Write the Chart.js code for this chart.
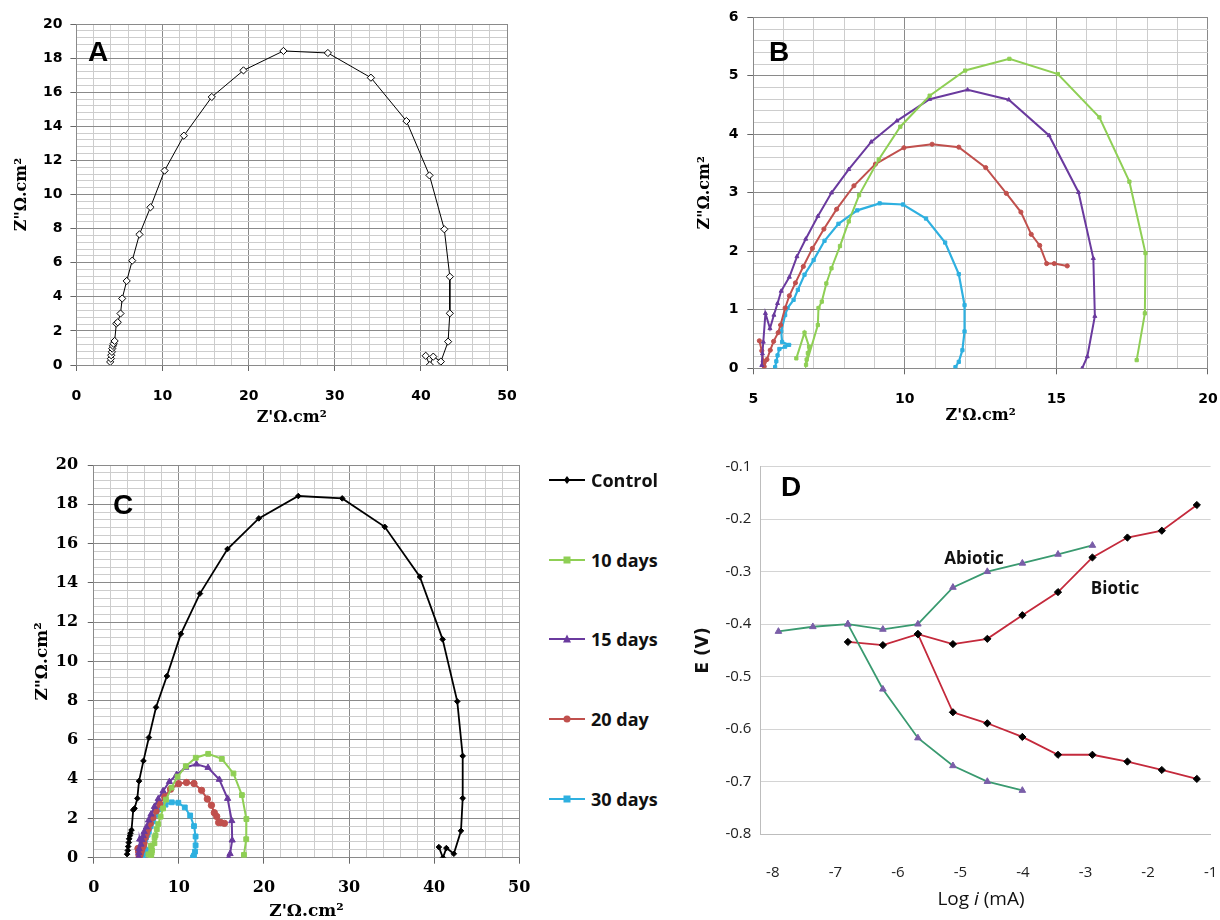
<!DOCTYPE html>
<html>
<head>
<meta charset="utf-8">
<script src="https://cdn.jsdelivr.net/npm/chart.js@4.4.1/dist/chart.umd.min.js"></script>
<style>
  html, body { margin:0; padding:0; background:#fff; width:1220px; height:920px; overflow:hidden; }
  .panel { position:absolute; }
  .lbl { position:absolute; transform:translate(-50%,-50%); white-space:nowrap; color:#000; }
  .letter { font-family:"Liberation Sans", Arial, sans-serif; font-weight:bold; font-size:28px; }
  .leg { position:absolute; left:549px; height:20px; display:flex; align-items:center; transform:translateY(-50%); }
  .leg span { font-family:"Open Sans", sans-serif; font-weight:bold; font-size:18px; color:#111; margin-left:6px; }
</style>
</head>
<body>
<div class="panel" style="left:0;top:0;"><canvas id="cA" width="540" height="440"></canvas></div>
<div class="panel" style="left:680px;top:0;"><canvas id="cB" width="540" height="440"></canvas></div>
<div class="panel" style="left:0;top:440px;"><canvas id="cC" width="540" height="482"></canvas></div>
<div class="panel" style="left:690px;top:440px;"><canvas id="cD" width="530" height="480"></canvas></div>

<div class="lbl letter" style="left:98px;top:52px;">A</div>
<div class="lbl letter" style="left:779px;top:52px;">B</div>
<div class="lbl letter" style="left:123px;top:505px;">C</div>
<div class="lbl letter" style="left:791px;top:487px;">D</div>
<div class="lbl" style="left:974px;top:557px;font-family:'Open Sans',sans-serif;font-weight:bold;font-size:17px;color:#111;">Abiotic</div>
<div class="lbl" style="left:1115px;top:587px;font-family:'Open Sans',sans-serif;font-weight:bold;font-size:17px;color:#111;">Biotic</div>
<div class="lbl" style="left:981px;top:898px;font-family:'Open Sans',sans-serif;font-size:19px;color:#111;">Log <i>i</i> (mA)</div>
<div id="legend"></div>

<script>
// ---------- DATA ----------
// Panel A / C : Control
const CONTROL_X = [3.92,4.0,4.04,4.12,4.16,4.24,4.32,4.44,4.64,4.8,5.12,5.32,5.84,6.48,7.32,8.6,10.24,12.48,15.72,19.4,24.04,29.2,34.2,38.32,41.0,42.72,43.36,43.36,43.16,42.32,41.44,41.04,40.56];
const CONTROL_Y = [0.18,0.37,0.57,0.77,0.96,1.12,1.25,1.41,2.43,2.51,3.02,3.9,4.93,6.12,7.66,9.25,11.4,13.45,15.72,17.28,18.42,18.3,16.85,14.31,11.12,7.96,5.18,3.03,1.37,0.2,0.49,0.0,0.54];
// Panel B / C : 10 days
const D10_X = [6.42,6.69,6.84,6.80,6.76,6.74,7.13,7.15,7.26,7.41,7.58,7.86,8.15,8.49,9.14,9.85,10.82,11.99,13.45,15.05,16.42,17.41,17.94,17.92,17.65];
const D10_Y = [0.17,0.61,0.37,0.26,0.15,0.06,0.74,1.03,1.14,1.45,1.71,2.09,2.51,2.96,3.57,4.13,4.66,5.09,5.29,5.03,4.29,3.19,1.97,0.94,0.14];
// 15 days
const D15_X = [5.28,5.30,5.33,5.40,5.55,5.68,5.80,5.92,6.19,6.44,6.73,7.13,7.58,8.15,8.89,9.74,10.82,12.07,13.43,14.76,15.73,16.22,16.27,16.02,15.85];
const D15_Y = [0.05,0.25,0.45,0.94,0.68,0.91,1.11,1.32,1.56,1.91,2.21,2.60,3.0,3.40,3.87,4.23,4.60,4.76,4.59,3.98,3.01,1.88,0.89,0.20,0.0];
// 20 day
const D20_X = [5.2,5.28,5.33,5.36,5.45,5.56,5.67,5.82,5.90,6.05,6.19,6.39,6.65,6.95,7.33,7.75,8.32,9.03,9.97,10.90,11.78,12.67,13.35,13.83,14.17,14.45,14.68,14.93,15.36];
const D20_Y = [0.47,0.30,0.12,0.03,0.15,0.31,0.46,0.61,0.74,1.03,1.24,1.46,1.74,2.05,2.38,2.72,3.12,3.49,3.77,3.83,3.78,3.43,2.99,2.67,2.29,2.10,1.79,1.79,1.75];
// 30 days
const D30_X = [5.72,5.76,5.80,5.86,6.05,6.18,5.95,5.92,6.05,6.13,6.33,6.47,6.69,6.99,7.35,7.81,8.43,9.17,9.94,10.70,11.33,11.78,11.97,11.97,11.90,11.78,11.67];
const D30_Y = [0.02,0.12,0.22,0.33,0.37,0.40,0.45,0.63,0.91,1.03,1.17,1.34,1.60,1.85,2.18,2.47,2.70,2.82,2.80,2.56,2.15,1.61,1.08,0.63,0.31,0.11,0.02];
// Panel D : polarization curves
const ABIO_AN_X = [-7.91,-7.36,-6.80,-6.24,-5.68,-5.12,-4.57,-4.01,-3.44,-2.89];
const ABIO_AN_Y = [-0.414,-0.405,-0.400,-0.410,-0.400,-0.330,-0.300,-0.284,-0.267,-0.250];
const ABIO_CA_X = [-6.80,-6.24,-5.68,-5.12,-4.57,-4.01];
const ABIO_CA_Y = [-0.400,-0.524,-0.617,-0.670,-0.700,-0.717];
const BIO_AN_X = [-6.80,-6.24,-5.68,-5.12,-4.57,-4.01,-3.44,-2.89,-2.33,-1.78,-1.22];
const BIO_AN_Y = [-0.434,-0.440,-0.419,-0.438,-0.428,-0.383,-0.339,-0.273,-0.235,-0.222,-0.173];
const BIO_CA_X = [-5.68,-5.12,-4.57,-4.01,-3.44,-2.89,-2.33,-1.78,-1.22];
const BIO_CA_Y = [-0.419,-0.568,-0.589,-0.615,-0.649,-0.649,-0.662,-0.678,-0.695];
// tick definitions
const NYQ_X_TICKS_AC = [0,10,20,30,40,50];
const NYQ_Y_TICKS_AC = [0,2,4,6,8,10,12,14,16,18,20];
const NYQ_X_TICKS_B = [5,10,15,20];
const NYQ_Y_TICKS_B = [0,1,2,3,4,5,6];
const POL_X_TICKS = [-8,-7,-6,-5,-4,-3,-2,-1];
const POL_Y_TICKS = [-0.8,-0.7,-0.6,-0.5,-0.4,-0.3,-0.2,-0.1];
const LEGEND_NAMES = ['Control','10 days','15 days','20 day','30 days'];

// ---------- STYLE ----------
const COL = { control:'#000000', d10:'#8FCF55', d15:'#6A3A9E', d20:'#C0504D', d30:'#2EB0E0' };
const MAJOR = '#8a8a8a', MINOR = '#cdcdcd';

function pts(xs, ys){ return xs.map((x,i)=>({x:x, y:ys[i]})); }
function range(min,max,step){ const t=[]; for(let i=0;;i++){ const v=+(min+i*step).toFixed(6); if(v>max+1e-9) break; t.push(v);} return t; }
function isIn(v, arr){ return arr.some(a=>Math.abs(a-v)<1e-6); }
function noPad(s){ s.paddingLeft = 0; s.paddingRight = 0; s.paddingTop = 0; s.paddingBottom = 0; }

function gridScale(o){
  return {
    type:'linear', min:o.min, max:o.max, position:o.position,
    afterBuildTicks: s => { s.ticks = range(o.min,o.max,o.step).map(v=>({value:v})); },
    afterFit: s => { if (o.position==='bottom') s.height=o.size; else s.width=o.size; noPad(s); },
    ticks:{ autoSkip:false, maxRotation:0, minRotation:0, padding:o.tpad, color:'#000',
            font:{family:o.tfont, size:o.tsize, weight:'bold'},
            callback: v => isIn(v,o.labels) ? String(v) : '' },
    grid:{ color: c => (c.tick && isIn(c.tick.value,o.labels)) ? MAJOR : MINOR, lineWidth:1,
           tickLength:6, tickColor: c => (c.tick && isIn(c.tick.value,o.labels)) ? '#666' : 'rgba(0,0,0,0)' },
    border:{ display:true, color:MAJOR },
    title:{ display:true, text:o.title, color:'#000', font:{family:'DejaVu Serif', size:o.titleSize, weight:'bold'}, padding:o.titlePad }
  };
}

function ds(label, xs, ys, color, style, radius, width, fill){
  return { label:label, data:pts(xs,ys), showLine:true, borderColor:color, borderWidth:width,
           pointStyle:style, pointRadius:radius, pointBorderColor:color, pointBorderWidth:1,
           pointBackgroundColor: fill || color, tension:0 };
}

const common = { responsive:false, animation:false, plugins:{legend:{display:false}, tooltip:{enabled:false}} };

// Panel A
new Chart(document.getElementById('cA'), {
  type:'scatter',
  data:{ datasets:[ ds('Control', CONTROL_X, CONTROL_Y, '#000', 'rectRot', 3.6, 1, '#fff') ] },
  options:Object.assign({}, common, {
    layout:{ padding:{left:0, top:24, right:33, bottom:0} },
    scales:{
      x: gridScale({min:0,max:50,step:2,labels:NYQ_X_TICKS_AC,position:'bottom',size:75,tpad:17,tfont:'DejaVu Sans',tsize:14,title:"Z'Ω.cm²",titleSize:16,titlePad:{top:0,bottom:13}}),
      y: gridScale({min:0,max:20,step:0.4,labels:NYQ_Y_TICKS_AC,position:'left',size:76.4,tpad:8,tfont:'DejaVu Sans',tsize:14,title:'Z"Ω.cm²',titleSize:16,titlePad:{top:12,bottom:0}})
    }
  })
});

// Panel B
new Chart(document.getElementById('cB'), {
  type:'scatter',
  data:{ datasets:[
    ds('10 days', D10_X, D10_Y, COL.d10, 'rect', 2.3, 2),
    ds('15 days', D15_X, D15_Y, COL.d15, 'triangle', 2.3, 2),
    ds('20 day', D20_X, D20_Y, COL.d20, 'circle', 2.1, 2),
    ds('30 days', D30_X, D30_Y, COL.d30, 'rect', 2.3, 2.2)
  ] },
  options:Object.assign({}, common, {
    layout:{ padding:{left:0, top:17.3, right:12.1, bottom:0} },
    scales:{
      x: gridScale({min:5,max:20,step:1,labels:NYQ_X_TICKS_B,position:'bottom',size:71.7,tpad:17,tfont:'DejaVu Sans',tsize:14,title:"Z'Ω.cm²",titleSize:16,titlePad:{top:0,bottom:14.8}}),
      y: gridScale({min:0,max:6,step:0.2,labels:NYQ_Y_TICKS_B,position:'left',size:73.3,tpad:8.8,tfont:'DejaVu Sans',tsize:14,title:'Z"Ω.cm²',titleSize:16,titlePad:{top:15.6,bottom:0}})
    }
  })
});

// Panel C
new Chart(document.getElementById('cC'), {
  type:'scatter',
  data:{ datasets:[
    ds('Control', CONTROL_X, CONTROL_Y, COL.control, 'rectRot', 2.8, 1.8),
    ds('10 days', D10_X, D10_Y, COL.d10, 'rect', 3.4, 2),
    ds('15 days', D15_X, D15_Y, COL.d15, 'triangle', 3.6, 2),
    ds('20 day', D20_X, D20_Y, COL.d20, 'circle', 3.2, 2),
    ds('30 days', D30_X, D30_Y, COL.d30, 'rect', 3.4, 2)
  ] },
  options:Object.assign({}, common, {
    layout:{ padding:{left:0, top:25, right:20.8, bottom:0} },
    scales:{
      x: gridScale({min:0,max:50,step:2,labels:NYQ_X_TICKS_AC,position:'bottom',size:64.3,tpad:15,tfont:'DejaVu Serif',tsize:16,title:"Z'Ω.cm²",titleSize:17,titlePad:{top:0,bottom:0}}),
      y: gridScale({min:0,max:20,step:0.4,labels:NYQ_Y_TICKS_AC,position:'left',size:93.75,tpad:9.7,tfont:'DejaVu Serif',tsize:16,title:'Z"Ω.cm²',titleSize:17,titlePad:{top:32,bottom:0}})
    }
  })
});

// Panel D
new Chart(document.getElementById('cD'), {
  type:'scatter',
  data:{ datasets:[
    ds('Abiotic anodic', ABIO_AN_X, ABIO_AN_Y, '#3A9A70', 'triangle', 3.8, 1.8, '#7A5EA8'),
    ds('Abiotic cathodic', ABIO_CA_X, ABIO_CA_Y, '#3A9A70', 'triangle', 3.8, 1.8, '#7A5EA8'),
    ds('Biotic anodic', BIO_AN_X, BIO_AN_Y, '#C42A3C', 'rectRot', 3.6, 1.8, '#000'),
    ds('Biotic cathodic', BIO_CA_X, BIO_CA_Y, '#C42A3C', 'rectRot', 3.6, 1.8, '#000')
  ].map((d,i)=>{ d.pointBorderColor = i<2 ? '#7A5EA8' : '#000'; return d; }) },
  options:Object.assign({}, common, {
    layout:{ padding:{left:0, top:26.7, right:9.4, bottom:0} },
    scales:{
      x:{ type:'linear', min:-8.2, max:-1, position:'bottom',
          afterBuildTicks: s => { s.ticks = POL_X_TICKS.map(v=>({value:v})); },
          afterFit: s => { s.height = 86; noPad(s); },
          ticks:{ autoSkip:false, maxRotation:0, padding:22, color:'#222', font:{family:'Open Sans', size:15}, callback: v => String(v) },
          grid:{ display:false },
          border:{ display:true, color:'#bdbdbd' } },
      y:{ type:'linear', min:-0.8, max:-0.1, position:'left',
          afterBuildTicks: s => { s.ticks = POL_Y_TICKS.map(v=>({value:v})); },
          afterFit: s => { s.width = 70.3; noPad(s); },
          ticks:{ autoSkip:false, padding:9, color:'#222', font:{family:'Open Sans', size:15}, callback: v => v.toFixed(1) },
          grid:{ color:'#d4d4d4', drawTicks:false, lineWidth:1 },
          border:{ display:true, color:'#bdbdbd' },
          title:{ display:true, text:'E (V)', color:'#111', font:{family:'DejaVu Sans', size:17, weight:'bold'}, padding:{top:3,bottom:0} } }
    }
  })
});

// Legend for panel C (HTML, line + marker)
(function(){
  const host = document.getElementById('legend');
  const rows = [480,560,639,719,799];
  const cols = [COL.control, COL.d10, COL.d15, COL.d20, COL.d30];
  const marks = ['diamond','square','triangle','circle','square'];
  LEGEND_NAMES.forEach((name,i)=>{
    const c = cols[i]; let m='';
    if (marks[i]==='diamond') m = `<polygon points="18,5 21,9 18,13 15,9" fill="${c}"/>`;
    else if (marks[i]==='square') m = `<rect x="14.5" y="5.5" width="7" height="7" fill="${c}"/>`;
    else if (marks[i]==='triangle') m = `<polygon points="18,4.5 22,12.5 14,12.5" fill="${c}"/>`;
    else m = `<circle cx="18" cy="9" r="3.5" fill="${c}"/>`;
    const div = document.createElement('div');
    div.className='leg'; div.style.top = rows[i]+'px';
    div.innerHTML = `<svg width="36" height="18"><line x1="0" y1="9" x2="36" y2="9" stroke="${c}" stroke-width="2"/>${m}</svg><span>${name}</span>`;
    host.appendChild(div);
  });
})();
</script>
</body>
</html>
